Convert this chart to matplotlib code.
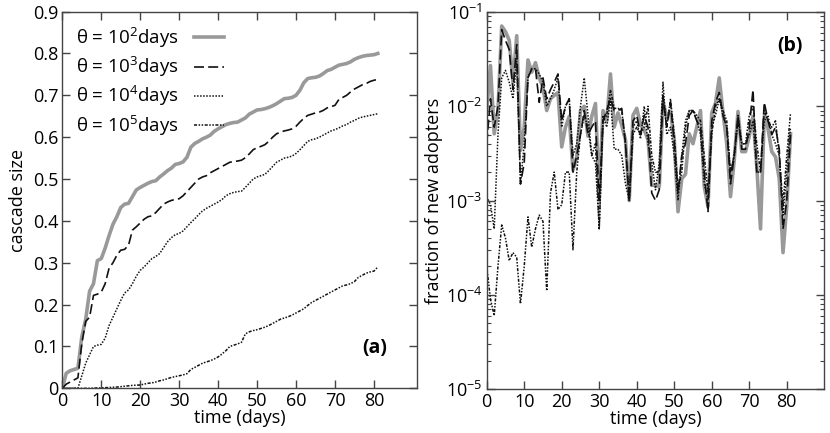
import numpy as np
import matplotlib
matplotlib.use("Agg")
import matplotlib.pyplot as plt
from matplotlib.ticker import FixedLocator, LogLocator, NullFormatter

plt.rcParams['font.family'] = ['Open Sans', 'DejaVu Sans']
plt.rcParams['mathtext.default'] = 'regular'
plt.rcParams['axes.unicode_minus'] = True

# ---- data: panel (a) cumulative cascade size, one value per day 0..81
days = np.arange(82)

size_1e2 = [0, 0.036, 0.042, 0.045, 0.048, 0.123, 0.165, 0.232, 0.25, 0.305,
            0.31, 0.335, 0.365, 0.392, 0.41, 0.432, 0.44, 0.442, 0.458, 0.474,
            0.48, 0.485, 0.49, 0.494, 0.496, 0.505, 0.512, 0.52, 0.526, 0.535,
            0.537, 0.541, 0.552, 0.576, 0.585, 0.59, 0.596, 0.6, 0.605, 0.614,
            0.62, 0.625, 0.63, 0.633, 0.635, 0.636, 0.641, 0.646, 0.655, 0.66,
            0.665, 0.666, 0.668, 0.671, 0.675, 0.68, 0.686, 0.692, 0.693, 0.695,
            0.7, 0.712, 0.73, 0.74, 0.742, 0.743, 0.746, 0.752, 0.759, 0.762,
            0.767, 0.772, 0.774, 0.776, 0.78, 0.786, 0.79, 0.793, 0.795, 0.796,
            0.797, 0.8]
size_1e3 = [0, 0.01, 0.015, 0.02, 0.025, 0.107, 0.16, 0.17, 0.222, 0.225,
            0.23, 0.25, 0.287, 0.3, 0.318, 0.33, 0.332, 0.342, 0.378, 0.386,
            0.395, 0.404, 0.41, 0.412, 0.42, 0.43, 0.44, 0.445, 0.449, 0.451,
            0.453, 0.46, 0.47, 0.48, 0.49, 0.5, 0.505, 0.508, 0.515, 0.52,
            0.525, 0.53, 0.535, 0.54, 0.542, 0.543, 0.545, 0.551, 0.56, 0.57,
            0.575, 0.578, 0.582, 0.59, 0.6, 0.608, 0.612, 0.615, 0.617, 0.62,
            0.626, 0.636, 0.645, 0.652, 0.655, 0.658, 0.66, 0.664, 0.67, 0.673,
            0.676, 0.69, 0.695, 0.7, 0.708, 0.715, 0.72, 0.725, 0.728, 0.733,
            0.736, 0.738]
size_1e4 = [0, 0, 0, 0, 0, 0.03, 0.06, 0.08, 0.1, 0.103,
            0.105, 0.12, 0.15, 0.17, 0.19, 0.21, 0.228, 0.235, 0.25, 0.268,
            0.282, 0.29, 0.3, 0.31, 0.315, 0.322, 0.336, 0.35, 0.36, 0.367,
            0.37, 0.376, 0.386, 0.396, 0.405, 0.415, 0.424, 0.43, 0.435, 0.44,
            0.445, 0.451, 0.46, 0.465, 0.468, 0.47, 0.471, 0.48, 0.49, 0.5,
            0.505, 0.508, 0.511, 0.52, 0.53, 0.54, 0.545, 0.55, 0.552, 0.555,
            0.561, 0.57, 0.58, 0.59, 0.594, 0.596, 0.6, 0.605, 0.61, 0.615,
            0.618, 0.622, 0.627, 0.63, 0.636, 0.64, 0.645, 0.648, 0.65, 0.652,
            0.654, 0.656]
size_1e5 = [0, 0, 0, 0, 0, 0, 0, 0, 0.0005, 0.0008,
            0.001, 0.0015, 0.002, 0.0025, 0.003, 0.004, 0.005, 0.006, 0.007, 0.0075,
            0.008, 0.01, 0.012, 0.013, 0.015, 0.018, 0.02, 0.023, 0.026, 0.028,
            0.03, 0.032, 0.035, 0.045, 0.05, 0.055, 0.06, 0.063, 0.066, 0.07,
            0.075, 0.082, 0.09, 0.1, 0.103, 0.106, 0.11, 0.13, 0.135, 0.138,
            0.14, 0.143, 0.146, 0.15, 0.155, 0.16, 0.165, 0.168, 0.171, 0.175,
            0.18, 0.185, 0.19, 0.198, 0.205, 0.21, 0.215, 0.22, 0.225, 0.23,
            0.235, 0.24, 0.245, 0.247, 0.25, 0.255, 0.265, 0.27, 0.275, 0.278,
            0.28, 0.29]

# ---- data: panel (b) fraction of new adopters per day 0..81
new_1e2 = [0.009, 0.027, 0.0051, 0.009, 0.071, 0.062, 0.05, 0.018, 0.056, 0.0034,
           0.006, 0.031, 0.023, 0.029, 0.02, 0.016, 0.009, 0.012, 0.013, 0.014,
           0.0037, 0.006, 0.0078, 0.0021, 0.0029, 0.009, 0.01, 0.0048, 0.0078, 0.0107,
           0.0011, 0.009, 0.007, 0.022, 0.006, 0.0085, 0.0063, 0.0044, 0.001, 0.008,
           0.0095, 0.0064, 0.0056, 0.0044, 0.00145, 0.00145, 0.0014, 0.011, 0.0078, 0.0088,
           0.0044, 0.00076, 0.0017, 0.0019, 0.0051, 0.004, 0.006, 0.009, 0.0014, 0.00087,
           0.0085, 0.0108, 0.02, 0.0085, 0.004, 0.0011, 0.0027, 0.0088, 0.0033, 0.0033,
           0.0048, 0.0078, 0.0023, 0.0005, 0.0078, 0.0058, 0.0033, 0.0029, 0.0017, 0.00028,
           0.00087, 0.0051]
new_1e3 = [0.004, 0.012, 0.006, 0.01, 0.065, 0.05, 0.04, 0.015, 0.045, 0.0015,
           0.0025, 0.02, 0.025, 0.025, 0.011, 0.02, 0.012, 0.015, 0.018, 0.022,
           0.007, 0.01, 0.012, 0.002, 0.003, 0.005, 0.009, 0.005, 0.006, 0.007,
           0.001, 0.007, 0.009, 0.012, 0.009, 0.009, 0.0095, 0.004, 0.001, 0.007,
           0.008, 0.005, 0.008, 0.006, 0.0012, 0.001, 0.0013, 0.013, 0.006, 0.011,
           0.004, 0.0012, 0.003, 0.004, 0.008, 0.009, 0.007, 0.006, 0.002, 0.00075,
           0.007, 0.011, 0.014, 0.008, 0.006, 0.0015, 0.003, 0.008, 0.0035, 0.0035,
           0.006, 0.015, 0.002, 0.002, 0.011, 0.007, 0.005, 0.006, 0.0035, 0.0005,
           0.001, 0.005]
new_1e4 = [0.0011, 0.0009, 0.0005, 0.005, 0.02, 0.024, 0.018, 0.012, 0.03, 0.0015,
           0.004, 0.02, 0.025, 0.025, 0.022, 0.018, 0.01, 0.012, 0.015, 0.02,
           0.006, 0.01, 0.012, 0.003, 0.004, 0.01, 0.02, 0.008, 0.003, 0.0025,
           0.0005, 0.008, 0.006, 0.012, 0.0035, 0.0035, 0.003, 0.0015, 0.001, 0.006,
           0.007, 0.0045, 0.01, 0.004, 0.0025, 0.0013, 0.0025, 0.018, 0.005, 0.006,
           0.003, 0.001, 0.003, 0.007, 0.009, 0.009, 0.007, 0.005, 0.0015, 0.001,
           0.006, 0.008, 0.012, 0.008, 0.006, 0.002, 0.003, 0.008, 0.004, 0.004,
           0.005, 0.007, 0.002, 0.002, 0.007, 0.008, 0.005, 0.004, 0.003, 0.0007,
           0.002, 0.006]
new_1e5 = [0.0002, 0.00009, 0.00006, 0.0002, 0.00055, 0.0004, 0.00023, 0.00028, 0.00025, 0.00008,
           0.0002, 0.00067, 0.00032, 0.0005, 0.0007, 0.0006, 0.00011, 0.0012, 0.002, 0.0008,
           0.0009, 0.002, 0.002, 0.0003, 0.002, 0.005, 0.008, 0.006, 0.003, 0.004,
           0.0005, 0.007, 0.008, 0.015, 0.0095, 0.0095, 0.009, 0.004, 0.001, 0.005,
           0.006, 0.005, 0.006, 0.01, 0.003, 0.002, 0.002, 0.012, 0.006, 0.012,
           0.005, 0.0013, 0.002, 0.006, 0.009, 0.009, 0.008, 0.007, 0.003, 0.0012,
           0.005, 0.01, 0.012, 0.009, 0.007, 0.002, 0.003, 0.007, 0.004, 0.004,
           0.008, 0.01, 0.004, 0.002, 0.009, 0.007, 0.006, 0.007, 0.003, 0.0009,
           0.003, 0.0085]

labels = ['θ = 10$^{2}$days', 'θ = 10$^{3}$days', 'θ = 10$^{4}$days', 'θ = 10$^{5}$days']
styles = [dict(color='#999999', lw=2.6, ls='-'),
          dict(color='#111111', lw=1.2, ls=(0, (6, 2.5))),
          dict(color='#111111', lw=1.1, ls=(0, (1, 1))),
          dict(color='#111111', lw=1.1, ls=(0, (2, 1, 1, 1, 1, 1)))]

fig = plt.figure(figsize=(8.3, 4.33), dpi=100)
ax1 = fig.add_axes([0.0751, 0.1032, 0.427, 0.870])
ax2 = fig.add_axes([0.5864, 0.1016, 0.4067, 0.8707])

fs = 13
spine_col = '#444444'

# panel (a)
for y, lab, st in zip([size_1e2, size_1e3, size_1e4, size_1e5], labels, styles):
    ax1.plot(days, y, label=lab, **st)
ax1.set_xlim(0, 91)
ax1.set_ylim(0, 0.9)
ax1.set_xticks(range(0, 90, 10))
ax1.set_yticks(np.arange(0, 0.91, 0.1))
ax1.set_yticklabels(['0', '0.1', '0.2', '0.3', '0.4', '0.5', '0.6', '0.7', '0.8', '0.9'])
ax1.set_xlabel('time (days)', fontsize=fs, labelpad=-1)
ax1.set_ylabel('cascade size', fontsize=fs, labelpad=4)
ax1.text(0.882, 0.107, '(a)', transform=ax1.transAxes, fontsize=fs + 1,
         fontweight='bold', ha='center', va='center')
ax1.legend(loc='upper left', frameon=False, fontsize=fs + 0.5, markerfirst=False,
           handlelength=1.6, labelspacing=0.28, borderaxespad=0.35,
           handletextpad=0.8)

# panel (b)
for y, st in zip([new_1e2, new_1e3, new_1e4, new_1e5], styles):
    ax2.plot(days, y, **st)
ax2.set_yscale('log')
ax2.set_xlim(0, 90)
ax2.set_ylim(1e-5, 1e-1)
ax2.set_xticks(range(0, 90, 10))
ax2.yaxis.set_major_locator(FixedLocator([1e-5, 1e-4, 1e-3, 1e-2, 1e-1]))
ax2.set_yticklabels(['10$^{−5}$', '10$^{−4}$', '10$^{−3}$', '10$^{−2}$', '10$^{−1}$'])
ax2.yaxis.set_minor_locator(LogLocator(base=10, subs=np.arange(2, 10), numticks=20))
ax2.yaxis.set_minor_formatter(NullFormatter())
ax2.set_xlabel('time (days)', fontsize=fs, labelpad=-1)
ax2.set_ylabel('fraction of new adopters', fontsize=fs, labelpad=2)
ax2.text(0.898, 0.91, '(b)', transform=ax2.transAxes, fontsize=fs + 1,
         fontweight='bold', ha='center', va='center')

for ax in (ax1, ax2):
    for sp in ax.spines.values():
        sp.set_color(spine_col)
        sp.set_linewidth(1.0)
    ax.tick_params(which='major', direction='in', length=6, width=1,
                   top=True, right=True, labelsize=fs, pad=3, color=spine_col)
    ax.tick_params(which='minor', direction='in', length=3, width=0.8,
                   top=False, right=True, color=spine_col)

fig.savefig('out.png', dpi=100)
